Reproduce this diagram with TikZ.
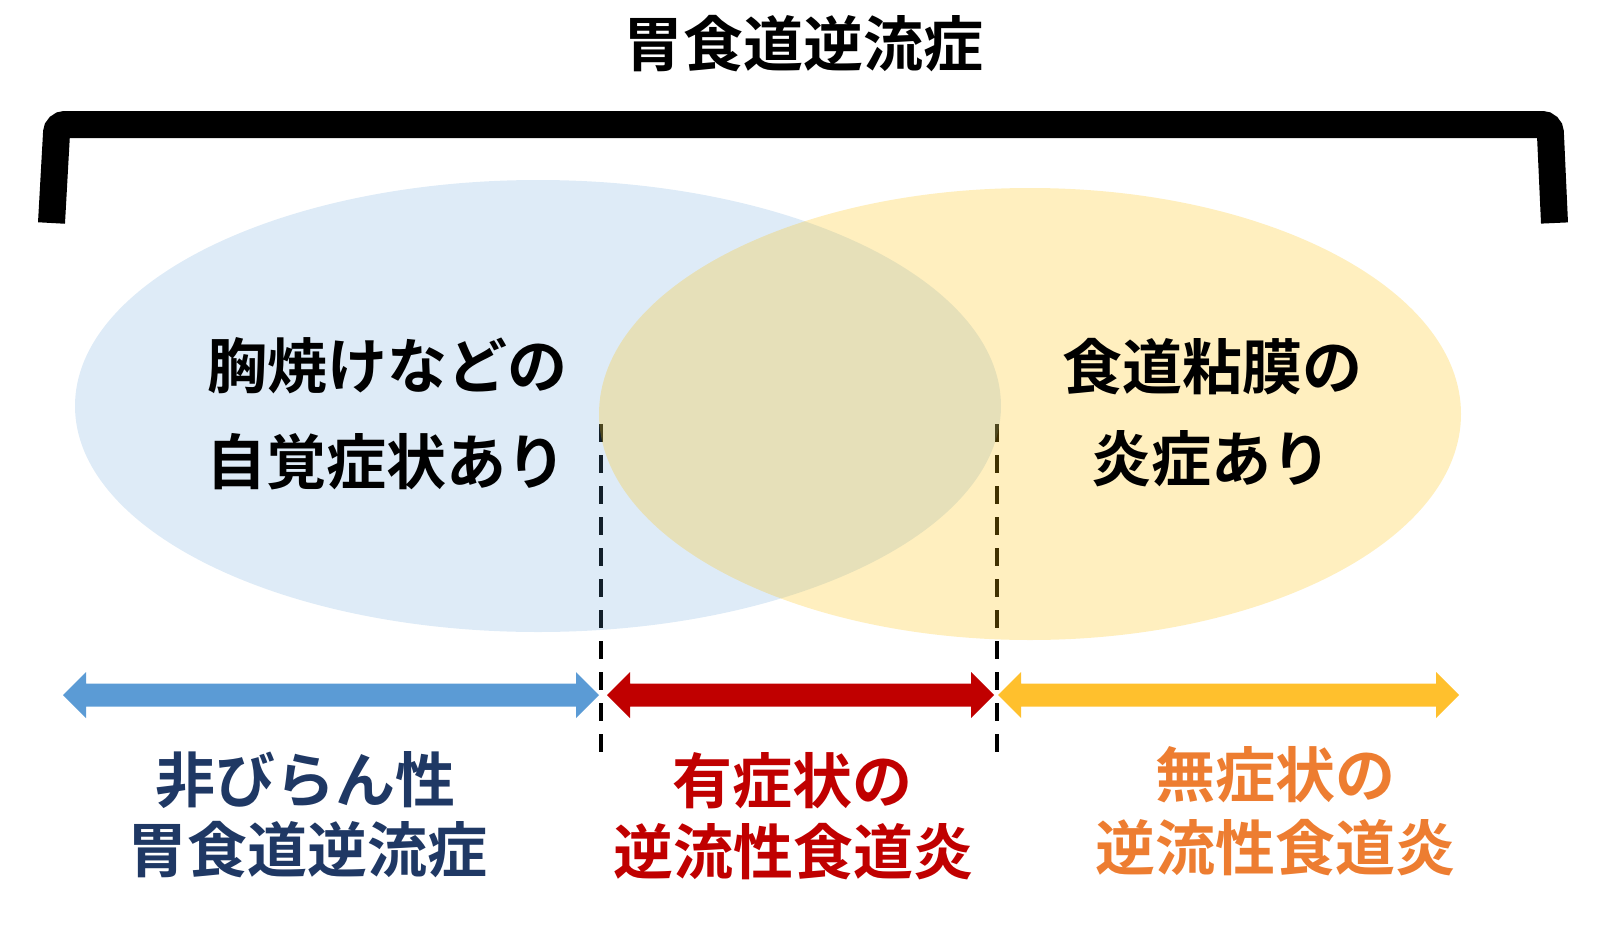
\documentclass[tikz,border=0pt]{standalone}
\usepackage{fontspec}
\newfontfamily\jp{Noto Sans CJK JP Bold}
\definecolor{ellblue}{HTML}{5B9BD5}
\definecolor{ellyellow}{HTML}{FFC000}
\definecolor{arrblue}{HTML}{5B9BD5}
\definecolor{arrred}{HTML}{C00000}
\definecolor{arryellow}{HTML}{FFC02D}
\definecolor{txtnavy}{HTML}{1F3864}
\definecolor{txtred}{HTML}{C00000}
\definecolor{txtorange}{HTML}{ED7D31}
\newcommand\mydblarrow[4]{%
  \fill[#1] (#2,#4) -- (#2+23,#4-23) -- (#2+23,#4-11.5) -- (#3-23,#4-11.5) -- (#3-23,#4-23)
    -- (#3,#4) -- (#3-23,#4+23) -- (#3-23,#4+11.5) -- (#2+23,#4+11.5) -- (#2+23,#4+23) -- cycle;}
\begin{document}
\begin{tikzpicture}[x=1pt,y=-1pt,
  lbl/.style={inner sep=0pt, anchor=center, font=\jp\fontsize{60}{60}\selectfont},
  divline/.style={line width=4.5pt, dash pattern=on 18pt off 13pt}]
\useasboundingbox (0,0) rectangle (1612,924);
% dashed dividers (under the ellipses)
\coordinate (d1a) at (601,424); \coordinate (d1b) at (601,755);
\coordinate (d2a) at (997,424); \coordinate (d2b) at (997,755);
\draw[divline] (d1a) -- (d1b);
\draw[divline] (d2a) -- (d2b);
% ellipses
\fill[ellblue, opacity=0.2] (538,406) ellipse [x radius=463pt, y radius=226pt];
\fill[ellyellow, opacity=0.25] (1030,414) ellipse [x radius=431pt, y radius=226pt];
% bracket
\draw[line width=27pt, rounded corners=8pt] (51.5,223) -- (57,124.5) -- (1550,124.5) -- (1554.5,223);
% title
\node[lbl] (title) at (803,43.5) {胃食道逆流症};
% ellipse texts
\node[lbl] (b1) at (387,366) {胸焼けなどの};
\node[lbl] (b2) at (386,462) {自覚症状あり};
\node[lbl] (y1) at (1212,366.5) {食道粘膜の};
\node[lbl] (y2) at (1211,459) {炎症あり};
% arrows
\mydblarrow{arrblue}{63}{599}{695}
\mydblarrow{arrred}{607}{994}{695}
\mydblarrow{arryellow}{998}{1459}{695}
% bottom labels
\node[lbl, text=txtnavy] (n1) at (305,780) {非びらん性};
\node[lbl, text=txtnavy] (n2) at (307,850) {胃食道逆流症};
\node[lbl, text=txtred] (r1) at (792,781) {有症状の};
\node[lbl, text=txtred] (r2) at (793,852) {逆流性食道炎};
\node[lbl, text=txtorange] (o1) at (1275,775) {無症状の};
\node[lbl, text=txtorange] (o2) at (1275,848) {逆流性食道炎};
\end{tikzpicture}
\end{document}
